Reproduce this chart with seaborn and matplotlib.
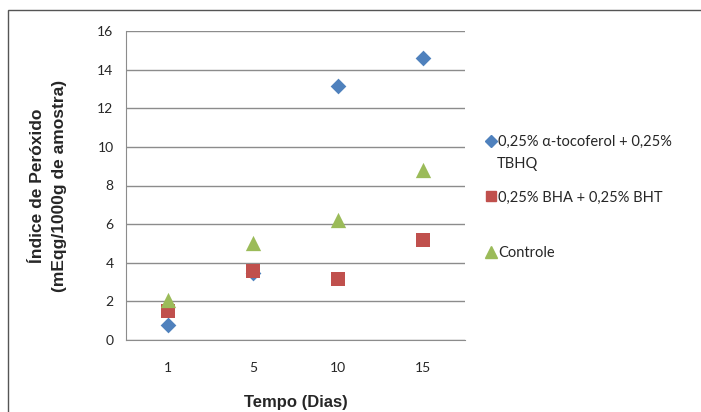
import numpy as np
import pandas as pd
import seaborn as sns
import matplotlib.pyplot as plt
from matplotlib.patches import Rectangle

# data
dias = ["1", "5", "10", "15"]
toco_tbhq = [0.8, 3.45, 13.15, 14.6]
bha_bht = [1.5, 3.55, 3.15, 5.2]
controle = [2.05, 5.0, 6.2, 8.8]
labels = ["0,25% \u03b1-tocoferol + 0,25%", "0,25% BHA + 0,25% BHT", "Controle"]

sns.set_style("white")
plt.rcParams['font.family'] = ['Lato', 'DejaVu Sans']

fig = plt.figure(figsize=(7.01, 4.12), dpi=100)
ax = fig.add_axes([126/701, 1-340/412, (465-126)/701, (340-31)/412])

series = [(toco_tbhq, "D", "#4F81BD", 8), (bha_bht, "s", "#C0504D", 10), (controle, "^", "#9BBB59", 11)]
for vals, mk, col, sz in series:
    df = pd.DataFrame({"dia": dias, "valor": vals})
    sns.stripplot(data=df, x="dia", y="valor", order=dias, jitter=False, marker=mk,
                  color=col, size=sz, linewidth=0, ax=ax, zorder=3)

ax.set_ylim(0, 16)
ax.set_yticks(np.arange(0, 17, 2))
ax.set_xlim(-0.5, 3.5)
ax.set_xticks(range(len(dias)))
ax.set_xticklabels(dias)
ax.set_xticks(np.arange(-0.5, 4, 1), minor=True)
ax.tick_params(axis="x", which="major", length=0, pad=16, labelsize=10)
ax.tick_params(axis="x", which="minor", length=5, direction="out", color="#888888", width=1)
ax.tick_params(axis="y", length=5, direction="out", color="#888888", labelsize=10, pad=4)
ax.grid(axis="y", color="#8c8c8c", linewidth=1)
ax.set_axisbelow(True)
for s in ["top", "right"]:
    ax.spines[s].set_visible(False)
for s in ["left", "bottom"]:
    ax.spines[s].set_color("#8c8c8c")

ax.set_xlabel("Tempo (Dias)", family="Liberation Sans", fontweight="bold", fontsize=12, labelpad=15)
ax.set_ylabel("\u00cdndice de Per\u00f3xido\n(mEqg/1000g de amostra)", family="Liberation Sans",
              fontweight="bold", fontsize=12.5, labelpad=22, linespacing=1.55)

handles = [plt.Line2D([], [], marker=mk, color=col, linestyle="", markersize=sz * 0.75)
           for _, mk, col, sz in series]
leg = fig.legend(handles, labels, loc="upper left", bbox_to_anchor=(485/701, 1-135/412),
                 frameon=False, fontsize=10.5, handletextpad=0.1, handlelength=0.8,
                 labelspacing=2.85, borderaxespad=0, borderpad=0)
# second line of the first legend entry
fig.text(497/701, 1-164/412, "TBHQ", fontsize=10.5, va="center", ha="left")

fig.patches.append(Rectangle((8/701, -0.1), 1.2, 1 - 10/412 + 0.1, transform=fig.transFigure,
                             fill=False, edgecolor="#555555", linewidth=1))

fig.savefig("out.png", dpi=100)
